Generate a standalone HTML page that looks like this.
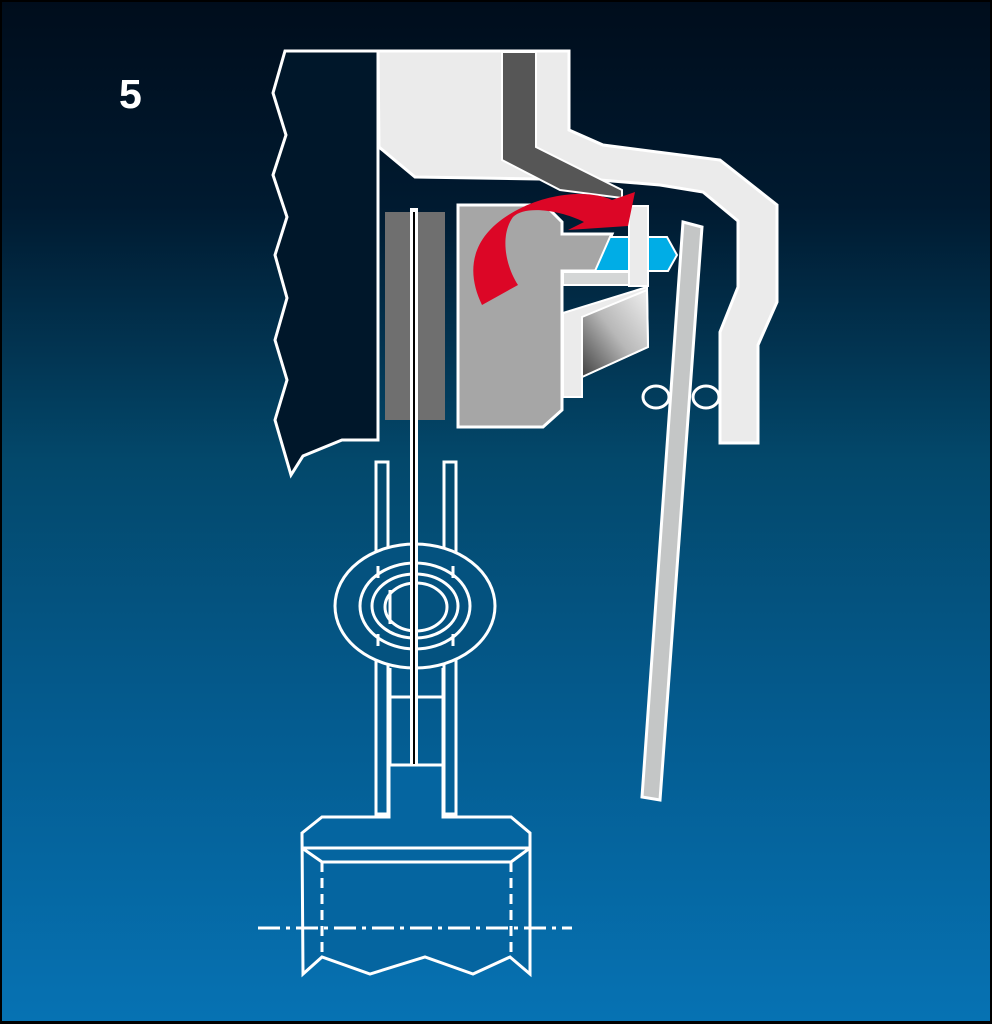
<!DOCTYPE html>
<html><head><meta charset="utf-8"><style>
html,body{margin:0;padding:0;background:#000;}
svg{display:block;}
</style></head><body>
<svg width="992" height="1024" viewBox="0 0 992 1024" xmlns="http://www.w3.org/2000/svg">
<defs>
<linearGradient id="bg" x1="0" y1="0" x2="0" y2="1">
<stop offset="0" stop-color="#000d1c"/>
<stop offset="0.2" stop-color="#001a30"/>
<stop offset="0.45" stop-color="#03486b"/>
<stop offset="0.7" stop-color="#045b8f"/>
<stop offset="1" stop-color="#0672b3"/>
</linearGradient>
<linearGradient id="wg" x1="1" y1="0" x2="0" y2="1">
<stop offset="0" stop-color="#f0f0f0"/>
<stop offset="0.5" stop-color="#b8b8b8"/>
<stop offset="1" stop-color="#404040"/>
</linearGradient>
</defs>
<rect x="0" y="0" width="992" height="1024" fill="#000"/>
<rect x="2" y="2" width="988" height="1019" fill="url(#bg)"/>
<text x="119" y="108" font-family="Liberation Sans, sans-serif" font-weight="bold" font-size="41" fill="#fff">5</text>

<g stroke="#fff" stroke-width="3" stroke-linejoin="miter">
<polygon points="285,51 378,51 378,440 342,440 303,456 291,475 275,420 287,380 275,340 287,298 275,255 287,217 273,175 286,135 273,93" fill="#00172a"/>
<polygon points="378,51 569,51 569,130 603,145 720,160 777,205 777,302 758,345 758,443 720,443 720,332 738,287 738,221 703,192 660,185 600,180 415,177 379,147" fill="#ebebeb"/>
<polygon points="502,52 536,52 536,147 622,190 622,198 560,190 502,160" fill="#565656" stroke-width="2"/>
<rect x="385" y="212" width="60" height="208" fill="#6f6f6f" stroke="none"/>
<polygon points="458,205 545,205 562,222 562,234 612,234 596,271 562,271 562,410 543,427 458,427" fill="#a6a6a6"/>
<polygon points="610,237 667,237 677,255 668,271 595,271" fill="#00ade6" stroke-width="2"/>
<rect x="629" y="206" width="19" height="80" fill="#ebebeb" stroke-width="2"/>
<rect x="563" y="272" width="66" height="13" fill="#d4d6d6" stroke-width="2"/>
<polygon points="563,313 647,287 648,347 582,377 582,397 563,397" fill="#ebebeb" stroke-width="2"/>
<polygon points="582,317 647,290 648,347 582,377" fill="url(#wg)" stroke-width="2"/>
<polygon points="683,222 702,227 660,800 642,797" fill="#c4c6c6"/>
<ellipse cx="656" cy="397" rx="13" ry="11" fill="none"/>
<ellipse cx="706" cy="397" rx="13" ry="11" fill="none"/>
</g>

<path d="M482,305 C465,270 470,232 523,207 C560,190 595,192 612,200 L635,192 L628,226 L568,230 L584,222 C560,210 525,205 513,217 C500,235 505,265 518,285 Z" fill="#dc0626"/>

<g stroke="#fff" stroke-width="3" fill="none">
<rect x="376" y="462" width="12" height="352" fill="none"/>
<rect x="444" y="462" width="12" height="352" fill="none"/>
<ellipse cx="415" cy="606" rx="80" ry="62" fill="#04527f"/>
<ellipse cx="415" cy="606" rx="55" ry="43"/>
<ellipse cx="415" cy="606" rx="43" ry="32"/>
<ellipse cx="416" cy="607" rx="31" ry="24"/>
<line x1="390" y1="590" x2="390" y2="624"/>
<line x1="378" y1="566" x2="378" y2="578"/><line x1="453" y1="566" x2="453" y2="578"/>
<line x1="378" y1="634" x2="378" y2="646"/><line x1="453" y1="634" x2="453" y2="646"/>
<line x1="390" y1="668" x2="390" y2="765"/>
<line x1="443" y1="668" x2="443" y2="765"/>
<line x1="390" y1="697" x2="443" y2="697"/>
<line x1="390" y1="765" x2="443" y2="765"/>
<polygon points="302,833 322,817 389,817 389,765 443,765 443,817 511,817 530,833 530,974 510,957 473,974 425,957 370,974 322,957 303,974" fill="#0565a0"/>
<line x1="302" y1="848" x2="530" y2="848"/>
<polyline points="302,848 322,862 511,862 530,848"/>
<line x1="322" y1="862" x2="322" y2="957" stroke-dasharray="10,6"/>
<line x1="511" y1="862" x2="511" y2="957" stroke-dasharray="10,6"/>
<line x1="258" y1="928" x2="572" y2="928" stroke-dasharray="22,6,4,6"/>
</g>
<rect x="410" y="208" width="8" height="558" fill="#fff"/>
<rect x="413" y="212" width="2" height="552" fill="#000"/>
</svg>
</body></html>
